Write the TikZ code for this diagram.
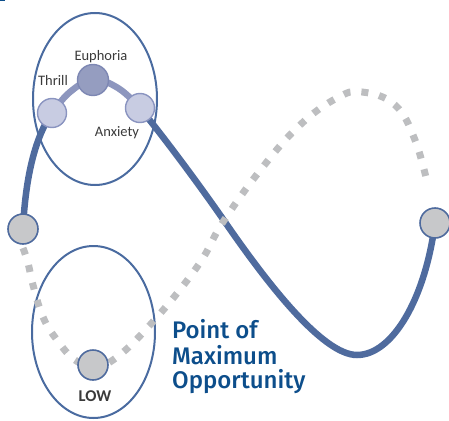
\documentclass[tikz,border=0pt]{standalone}
\usepackage{fontspec}
\setmainfont{Carlito}
\newfontfamily\pmfont{Fira Sans Medium}
\definecolor{blueline}{HTML}{4F6B9E}
\definecolor{lightline}{HTML}{8D96BE}
\definecolor{ellcol}{HTML}{4A6BA0}
\definecolor{dotgray}{HTML}{BDBEC0}
\definecolor{nodegray}{HTML}{C7C8CA}
\definecolor{lavfill}{HTML}{C8CCE2}
\definecolor{lavdraw}{HTML}{8A94C0}
\definecolor{euphfill}{HTML}{959DC0}
\definecolor{euphdraw}{HTML}{7D87B3}
\definecolor{txtcol}{HTML}{3A3A3A}
\definecolor{pmblue}{HTML}{0D4E8B}
\begin{document}
\begin{tikzpicture}[x=1pt,y=-1pt,
  ring/.style={draw=ellcol,line width=2pt},
  graydot/.style={circle,minimum size=30pt,inner sep=0pt,fill=nodegray,draw=blueline,line width=1.6pt},
  lavdot/.style={circle,minimum size=29pt,inner sep=0pt,fill=lavfill,draw=lavdraw,line width=1.4pt},
  euphdot/.style={circle,minimum size=31pt,inner sep=0pt,fill=euphfill,draw=euphdraw,line width=1.4pt},
  lbl/.style={text=txtcol,font=\fontsize{14.5}{16}\selectfont,inner sep=0pt},
  pmtext/.style={text=pmblue,font=\pmfont\fontsize{24}{26}\selectfont,anchor=base west,inner sep=0pt},
  mainline/.style={draw=blueline,line width=6.5pt},
  softline/.style={draw=lightline,line width=6.5pt},
  dotline/.style={draw=dotgray,line width=7pt,dash pattern=on 7pt off 11pt}]
\useasboundingbox (0,0) rectangle (449,420);
\fill[pmblue] (0,0) rectangle (4.5,1.5);
% ellipses
\draw[ring] (95,99) ellipse [x radius=62, y radius=86];
\draw[ring] (93.5,332) ellipse [x radius=61.5, y radius=86];
% coordinates of nodes
\coordinate (cL) at (23,229);
\coordinate (cT) at (52,113);
\coordinate (cE) at (93,80);
\coordinate (cA) at (140,108);
\coordinate (cLow) at (93,365);
\coordinate (cR) at (435,223);
\coordinate (cX) at (225,222);
\coordinate (cB) at (357,355);
% solid curves
\draw[mainline] (cL) .. controls (25,185) and (33,140) .. (cT);
\draw[softline] plot[smooth,tension=0.7] coordinates {(52,113) (70,92) (93,80) (118,88) (140,108)};
\draw[mainline] (cA) .. controls (170,145) and (205,193) .. (cX)
  .. controls (265,280) and (322,355) .. (cB)
  .. controls (392,355) and (425,300) .. (cR);
% dotted curve
\draw[dotline] plot[smooth,tension=0.7] coordinates {(23,248) (28,263) (33,285) (43,317) (57,340) (75,360) (93,365) (113,360) (150,325) (197,267) (223,222) (262,168) (300,125) (337,98) (362,92) (395,105) (415,140) (428,186)};
% nodes
\node[graydot] (left) at (cL) {};
\node[lavdot] (thrill) at (cT) {};
\node[euphdot] (euph) at (cE) {};
\node[lavdot] (anx) at (cA) {};
\node[graydot] (low) at (cLow) {};
\node[graydot] (right) at (cR) {};
% labels
\node[lbl] (tEuph) at (101,57) {Euphoria};
\node[lbl] (tThrill) at (53,80) {Thrill};
\node[lbl] (tAnx) at (117,133) {Anxiety};
\node[lbl,font=\fontsize{16.5}{18}\selectfont\bfseries] (tLow) at (95,396) {LOW};
\node[pmtext] (pm1) at (172,338) {Point of};
\node[pmtext] (pm2) at (172,364) {Maximum};
\node[pmtext] (pm3) at (172,388) {Opportunity};
\end{tikzpicture}
\end{document}
